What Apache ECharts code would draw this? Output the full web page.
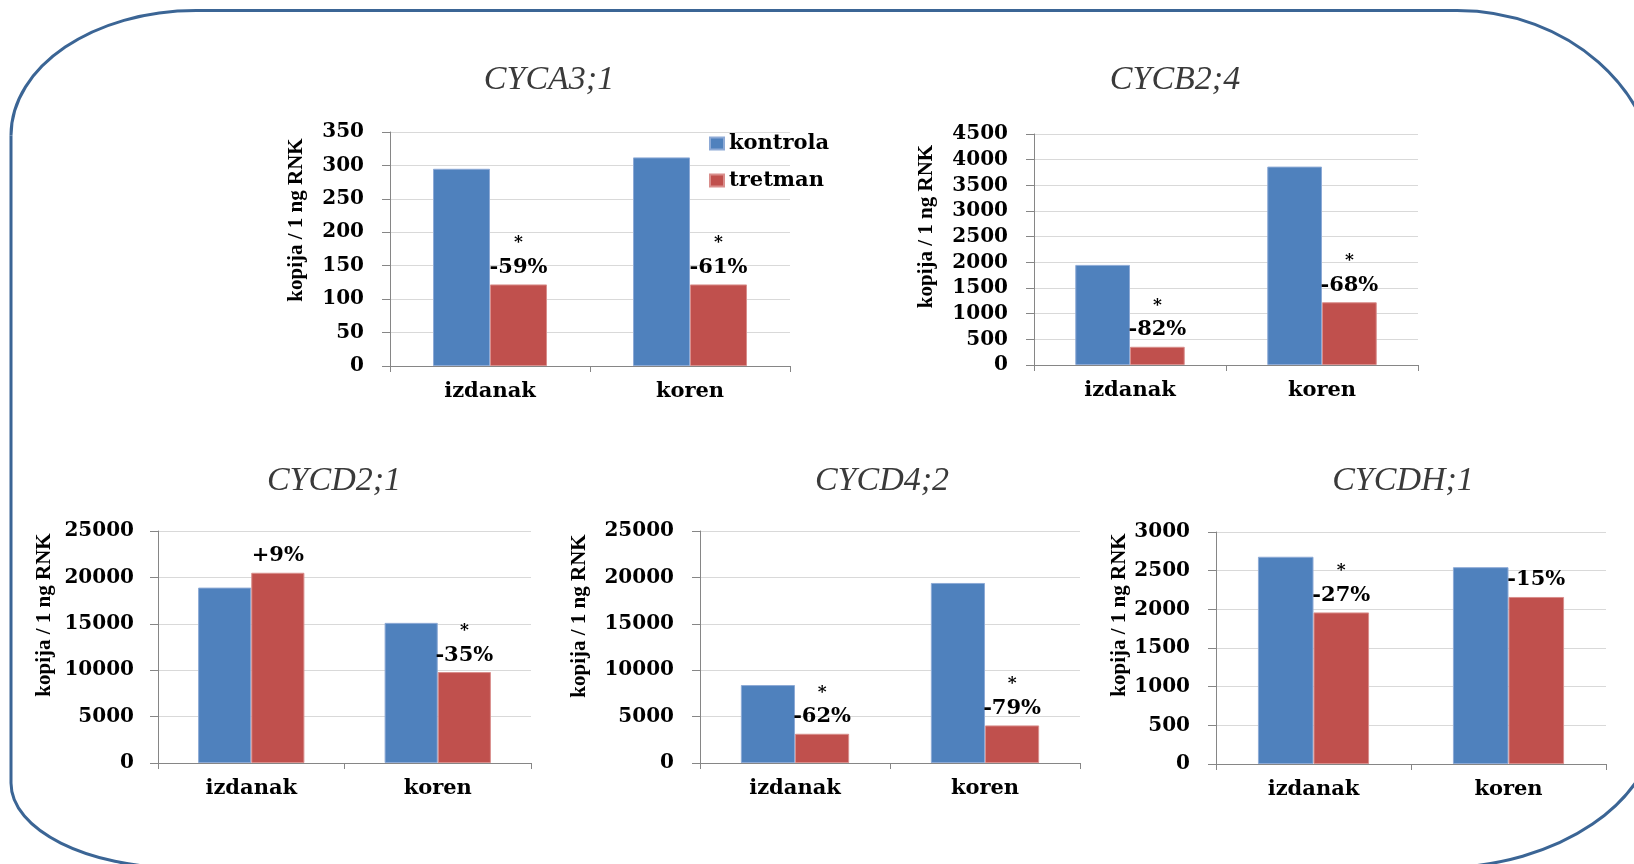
<!DOCTYPE html>
<html>
<head>
<meta charset="utf-8">
<script src="https://cdn.jsdelivr.net/npm/echarts@6/dist/echarts.min.js"></script>
<style>
html,body{margin:0;padding:0;background:#fff;}
#chart{width:1634px;height:864px;}
</style>
</head>
<body>
<div id="chart"></div>
<script>
// ---------- DATA ----------
const categories = ['izdanak', 'koren'];
const seriesNames = ['kontrola', 'tretman'];
const titles = ['CYCA3;1', 'CYCB2;4', 'CYCD2;1', 'CYCD4;2', 'CYCDH;1'];
const yAxisName = 'kopija / 1 ng RNK';

const kontrola_CYCA3 = [295, 312];
const tretman_CYCA3 = [122, 122];
const pct_CYCA3 = ['-59%', '-61%'];
const star_CYCA3 = [true, true];

const kontrola_CYCB2 = [1950, 3865];
const tretman_CYCB2 = [355, 1222];
const pct_CYCB2 = ['-82%', '-68%'];
const star_CYCB2 = [true, true];

const kontrola_CYCD2 = [18900, 15100];
const tretman_CYCD2 = [20500, 9800];
const pct_CYCD2 = ['+9%', '-35%'];
const star_CYCD2 = [false, true];

const kontrola_CYCD4 = [8400, 19400];
const tretman_CYCD4 = [3150, 4050];
const pct_CYCD4 = ['-62%', '-79%'];
const star_CYCD4 = [true, true];

const kontrola_CYCDH = [2680, 2545];
const tretman_CYCDH = [1960, 2160];
const pct_CYCDH = ['-27%', '-15%'];
const star_CYCDH = [true, false];

const yMax = [350, 4500, 25000, 25000, 3000];
const yInterval = [50, 500, 5000, 5000, 500];

// ---------- LAYOUT ----------
const kontrolaAll = [kontrola_CYCA3, kontrola_CYCB2, kontrola_CYCD2, kontrola_CYCD4, kontrola_CYCDH];
const tretmanAll = [tretman_CYCA3, tretman_CYCB2, tretman_CYCD2, tretman_CYCD4, tretman_CYCDH];
const pctAll = [pct_CYCA3, pct_CYCB2, pct_CYCD2, pct_CYCD4, pct_CYCDH];
const starAll = [star_CYCA3, star_CYCB2, star_CYCD2, star_CYCD4, star_CYCDH];

const grids = [
  {left: 390, top: 132, width: 400, height: 234},
  {left: 1034, top: 134, width: 384, height: 231},
  {left: 158, top: 531, width: 373, height: 232},
  {left: 700, top: 531, width: 380, height: 232},
  {left: 1216, top: 532, width: 390, height: 232}
];
const titlePos = [[549, 63], [1175, 63], [334, 464], [882, 464], [1403, 464]];
const nameGaps = [83, 97, 103, 110, 86];
const nameShift = [29, 23, 32, 31, 33];
const labelMargins = [26, 26, 24, 26, 26];

const BLUE = '#4F81BD', RED = '#C0504D';
const BLUE_EDGE = '#8DAAD6', RED_EDGE = '#D98E8C';
const BOLD = 'DejaVu Serif';
const axisGray = '#868686';
const frameStyle = {stroke: '#3B6595', lineWidth: 3, fill: 'none'};
const K = 0.5523;

function corner(x1, y1, c1x, c1y, c2x, c2y, x2, y2) {
  return {type: 'bezierCurve', silent: true, z: 100,
    shape: {x1: x1, y1: y1, cpx1: c1x, cpy1: c1y, cpx2: c2x, cpy2: c2y, x2: x2, y2: y2},
    style: frameStyle};
}
function seg(x1, y1, x2, y2) {
  return {type: 'line', silent: true, z: 100, shape: {x1: x1, y1: y1, x2: x2, y2: y2}, style: frameStyle};
}

const frame = [
  seg(196, 10.5, 1457, 10.5),
  corner(1457, 10.5, 1457 + K * 200, 10.5, 1657, 186.5 - K * 176, 1657, 186.5),
  seg(1657, 186.5, 1657, 718),
  corner(1657, 718, 1657, 718 + K * 150, 1437 + K * 220, 868, 1437, 868),
  seg(1437, 868, 181, 868),
  corner(181, 868, 181 - K * 170, 868, 11, 783 + K * 85, 11, 783),
  seg(11, 783, 11, 135.5),
  corner(11, 135.5, 11, 135.5 - K * 125, 196 - K * 185, 10.5, 196, 10.5)
];

const option = {
  animation: false,
  backgroundColor: '#ffffff',
  title: titles.map((t, i) => ({
    text: t, left: titlePos[i][0], top: titlePos[i][1], textAlign: 'center', padding: 0,
    textStyle: {fontFamily: 'Liberation Serif', fontStyle: 'italic', fontWeight: 'normal', fontSize: 34, color: '#3a3a3a'}
  })),
  legend: {
    data: seriesNames, orient: 'vertical', left: 709, top: 133, padding: 0,
    itemWidth: 14, itemHeight: 12, itemGap: 16, icon: 'rect',
    textStyle: {fontFamily: BOLD, fontWeight: 'bold', fontSize: 21, lineHeight: 21, color: '#000'}
  },
  grid: grids.map(g => Object.assign({containLabel: false}, g)),
  xAxis: grids.map((g, i) => ({
    type: 'category', gridIndex: i, data: categories,
    axisLine: {show: true, lineStyle: {color: axisGray, width: 1}},
    axisTick: {show: true, length: 6, lineStyle: {color: axisGray}},
    axisLabel: {margin: 15, fontFamily: BOLD, fontWeight: 'bold', fontSize: 21, color: '#000'},
    splitLine: {show: false}
  })),
  yAxis: grids.map((g, i) => ({
    type: 'value', gridIndex: i, min: 0, max: yMax[i], interval: yInterval[i],
    name: yAxisName, nameLocation: 'middle', nameRotate: 90, nameGap: nameGaps[i],
    nameTextStyle: {fontFamily: 'Liberation Serif', fontWeight: 'bold', fontSize: 21, color: '#000',
      padding: [0, 0, 0, nameShift[i] * 2]},
    axisLine: {show: true, lineStyle: {color: axisGray, width: 1}},
    axisTick: {show: true, length: 8, lineStyle: {color: axisGray}},
    axisLabel: {margin: labelMargins[i], fontFamily: BOLD, fontWeight: 'bold', fontSize: 20, color: '#000',
      formatter: v => String(v)},
    splitLine: {show: true, lineStyle: {color: '#d9d9d9', width: 1}}
  })),
  series: [],
  graphic: frame
};

for (let i = 0; i < 5; i++) {
  option.series.push({
    name: seriesNames[0], type: 'bar', xAxisIndex: i, yAxisIndex: i,
    barGap: '0%', barCategoryGap: '43%',
    itemStyle: {color: BLUE, borderColor: BLUE_EDGE, borderWidth: 1},
    data: kontrolaAll[i]
  });
  option.series.push({
    name: seriesNames[1], type: 'bar', xAxisIndex: i, yAxisIndex: i,
    barGap: '0%', barCategoryGap: '43%',
    itemStyle: {color: RED, borderColor: RED_EDGE, borderWidth: 1},
    data: tretmanAll[i].map((v, j) => ({
      value: v,
      label: {
        show: true, position: 'top', distance: 6,
        formatter: (starAll[i][j] ? '{s|*}\n' : '') + '{p|' + pctAll[i][j] + '}',
        rich: {
          s: {fontFamily: BOLD, fontWeight: 'bold', fontSize: 17, lineHeight: 27, color: '#000', align: 'center'},
          p: {fontFamily: BOLD, fontWeight: 'bold', fontSize: 21, lineHeight: 22, color: '#000', align: 'center'}
        }
      }
    }))
  });
}

const chart = echarts.init(document.getElementById('chart'), null, {renderer: 'canvas'});
chart.setOption(option);
</script>
</body>
</html>
